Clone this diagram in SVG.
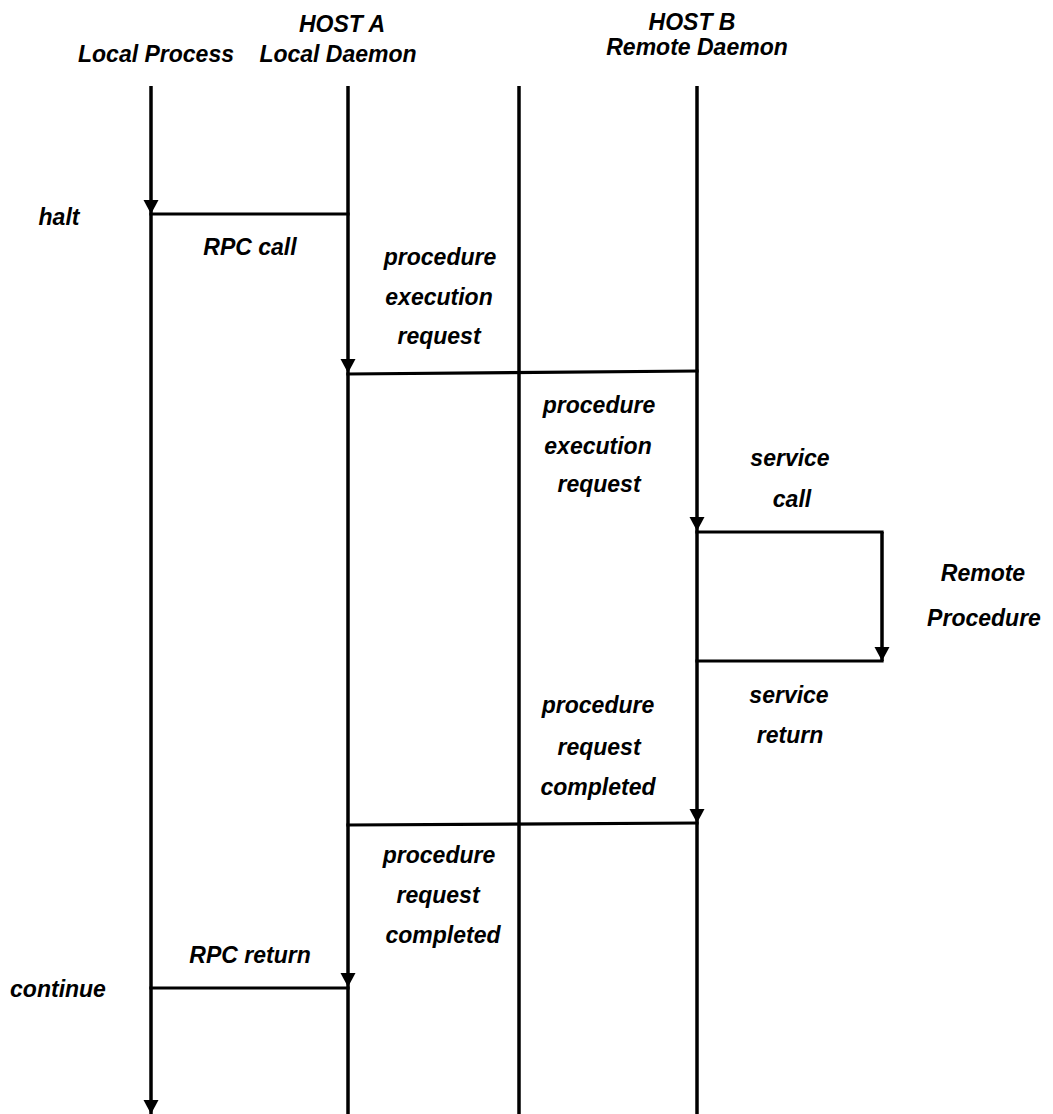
<svg xmlns="http://www.w3.org/2000/svg" xmlns:xlink="http://www.w3.org/1999/xlink" width="1053" height="1114" viewBox="0 0 1053 1114">
  <style>
    text { font-family: "Liberation Sans", Arial, sans-serif; font-weight: bold; font-style: italic; font-size: 23px; fill: #000; text-anchor: middle; }
    .life { stroke: #000; stroke-width: 3.5; fill: none; }
    .msg { stroke: #000; stroke-width: 3.2; fill: none; stroke-linecap: square; }
  </style>
  <defs>
    <!-- downward arrowhead, tip at the origin -->
    <path id="ah" d="M0,0 L-7.5,-14 L7.5,-14 Z" fill="#000"/>
  </defs>
  <rect width="1053" height="1114" fill="#fff"/>

  <!-- lifelines with their headings -->
  <g id="local-process">
    <text x="156" y="62">Local Process</text>
    <line class="life" x1="151" y1="86" x2="151" y2="1114"/>
  </g>
  <g id="local-daemon">
    <text x="342" y="32">HOST A</text>
    <text x="338" y="62">Local Daemon</text>
    <line class="life" x1="348" y1="86" x2="348" y2="1114"/>
  </g>
  <g id="host-divider">
    <line class="life" x1="519" y1="86" x2="519" y2="1114"/>
  </g>
  <g id="remote-daemon">
    <text x="692" y="30">HOST B</text>
    <text x="697" y="55">Remote Daemon</text>
    <line class="life" x1="697" y1="86" x2="697" y2="1114"/>
  </g>
  <g id="remote-procedure">
    <text x="983" y="581">Remote</text>
    <text x="984" y="626">Procedure</text>
  </g>

  <!-- messages between lifelines -->
  <g id="connectors">
    <line class="msg" x1="151" y1="214" x2="348" y2="214"/>
    <line class="msg" x1="348" y1="374" x2="697" y2="371"/>
    <line class="msg" x1="697" y1="532" x2="882" y2="532"/>
    <line class="life" x1="882" y1="532" x2="882" y2="661"/>
    <line class="msg" x1="697" y1="661" x2="882" y2="661"/>
    <line class="msg" x1="348" y1="825" x2="697" y2="823"/>
    <line class="msg" x1="151" y1="988" x2="348" y2="988"/>
    <use xlink:href="#ah" x="151" y="214"/>
    <use xlink:href="#ah" x="348" y="373"/>
    <use xlink:href="#ah" x="697" y="531"/>
    <use xlink:href="#ah" x="882" y="661"/>
    <use xlink:href="#ah" x="697" y="823"/>
    <use xlink:href="#ah" x="348" y="987"/>
    <use xlink:href="#ah" x="151" y="1114"/>
  </g>

  <!-- message labels -->
  <g id="labels">
    <text x="59" y="225">halt</text>
    <text x="250" y="255">RPC call</text>
    <text x="440" y="265">procedure</text>
    <text x="439" y="305">execution</text>
    <text x="439" y="344">request</text>
    <text x="599" y="413">procedure</text>
    <text x="598" y="454">execution</text>
    <text x="599" y="492">request</text>
    <text x="790" y="466">service</text>
    <text x="792" y="507">call</text>
    <text x="598" y="713">procedure</text>
    <text x="599" y="755">request</text>
    <text x="598" y="795">completed</text>
    <text x="789" y="703">service</text>
    <text x="790" y="743">return</text>
    <text x="439" y="863">procedure</text>
    <text x="438" y="903">request</text>
    <text x="443" y="943">completed</text>
    <text x="250" y="963">RPC return</text>
    <text x="58" y="997">continue</text>
  </g>
</svg>
